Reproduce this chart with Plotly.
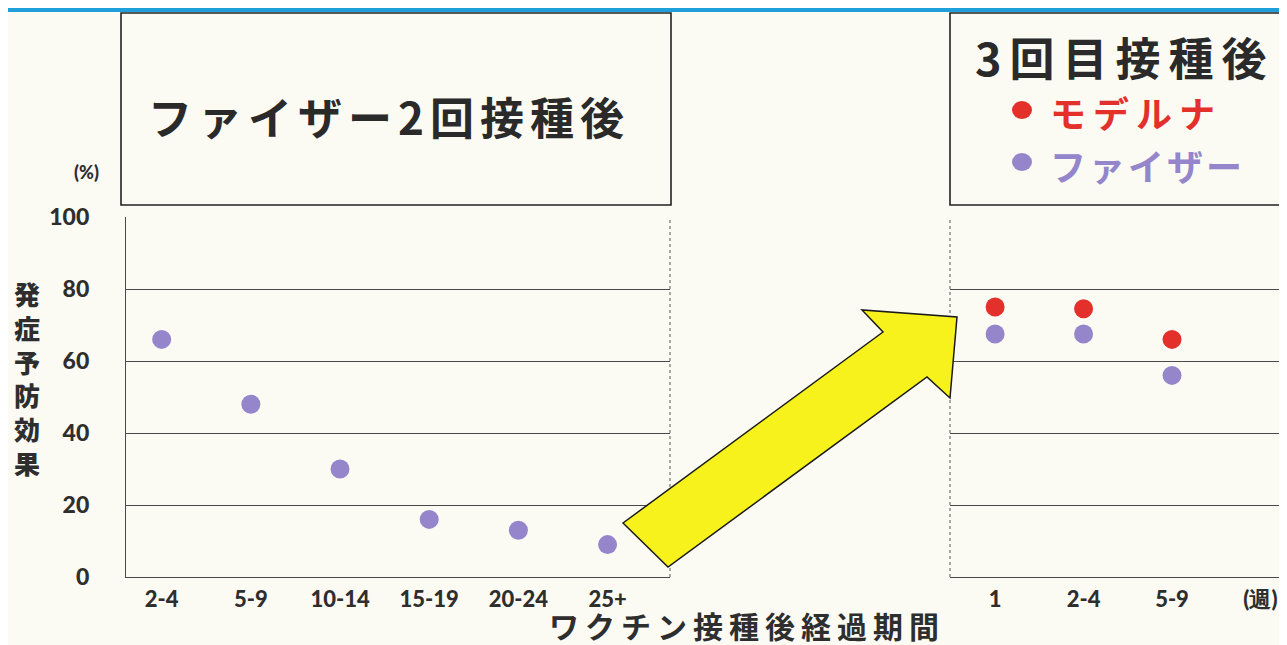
import plotly.graph_objects as go

# page body adds an 8px margin, so the figure is drawn 8px smaller and
# all layout positions (read in screen pixels) are shifted by that offset
OX, OY = 8, 8
W, H = 1287 - OX, 645 - OY

# ---- data ----
periods_2dose = ["2-4", "5-9", "10-14", "15-19", "20-24", "25+"]
pfizer_2dose = [66, 48, 30, 16, 13, 9]

periods_3dose = ["1", "2-4", "5-9"]
moderna_3dose = [75, 74.5, 66]
pfizer_3dose = [67.5, 67.5, 56]
unit_label = "(週)"

y_ticks = [0, 20, 40, 60, 80, 100]

PURPLE = "#9586cc"
RED = "#e4302a"
BG = "#fbfbf4"
GRID = "#4a4a4a"
TXT = "#2e2e2e"
JP = "Noto Sans CJK JP"
NUM = "Lato"


def px(x):
    return (x - OX) / W


def py(y):
    return 1 - (y - OY) / H


fig = go.Figure()

fig.add_trace(go.Scatter(
    x=periods_2dose, y=pfizer_2dose, mode="markers",
    marker=dict(color=PURPLE, size=19, line=dict(width=0)),
    xaxis="x", yaxis="y", showlegend=False, hoverinfo="skip"))

fig.add_trace(go.Scatter(
    x=periods_3dose, y=moderna_3dose, mode="markers",
    marker=dict(color=RED, size=19, line=dict(width=0)),
    xaxis="x2", yaxis="y2", showlegend=False, hoverinfo="skip"))

fig.add_trace(go.Scatter(
    x=periods_3dose, y=pfizer_3dose, mode="markers",
    marker=dict(color=PURPLE, size=19, line=dict(width=0)),
    xaxis="x2", yaxis="y2", showlegend=False, hoverinfo="skip"))

y_dom = [py(577), py(217)]
tickfont = dict(family=NUM, size=23, color=TXT, weight=900)
xtickfont = dict(family=NUM, size=22, color=TXT, weight=900)

fig.update_layout(
    width=W, height=H,
    margin=dict(l=0, r=0, t=0, b=0, autoexpand=False),
    paper_bgcolor=BG, plot_bgcolor="rgba(0,0,0,0)",
    xaxis=dict(domain=[px(126), px(670)], type="category",
               categoryarray=periods_2dose, categoryorder="array",
               range=[-0.4, 5.7], showgrid=False, zeroline=False,
               showline=True, linecolor=GRID, linewidth=1.2,
               ticks="", tickfont=xtickfont, ticklabelstandoff=2,
               automargin=False, anchor="y"),
    yaxis=dict(domain=y_dom, range=[0, 100], tickvals=y_ticks,
               showgrid=True, gridcolor=GRID, gridwidth=1,
               zeroline=False, showline=True, linecolor=GRID, linewidth=1.2,
               ticks="", tickfont=tickfont, ticklabelstandoff=31,
               automargin=False, anchor="x"),
    xaxis2=dict(domain=[px(950), 1.0], type="category",
                categoryarray=periods_3dose + [unit_label], categoryorder="array",
                range=[-0.51, 3.3], showgrid=False, zeroline=False,
                showline=True, linecolor=GRID, linewidth=1.2,
                ticks="", tickfont=xtickfont, ticklabelstandoff=2,
                automargin=False, anchor="y2"),
    yaxis2=dict(domain=y_dom, range=[0, 100], tickvals=y_ticks,
                showgrid=True, gridcolor=GRID, gridwidth=1,
                zeroline=False, showline=False, showticklabels=False,
                ticks="", automargin=False, anchor="x2"),
)

shapes = []
# top blue bar
shapes.append(dict(type="rect", xref="paper", yref="paper", x0=0, x1=1,
                   y0=py(12), y1=1, fillcolor="#1f9fd9", line=dict(width=0),
                   layer="above"))
# title boxes
shapes.append(dict(type="rect", xref="paper", yref="paper",
                   x0=px(121), x1=px(671), y0=py(205), y1=py(13),
                   line=dict(color="#222", width=1.6), fillcolor="rgba(0,0,0,0)"))
shapes.append(dict(type="rect", xref="paper", yref="paper",
                   x0=px(950), x1=px(1300), y0=py(205), y1=py(13),
                   line=dict(color="#222", width=1.6), fillcolor="rgba(0,0,0,0)"))
# dotted frame edges
shapes.append(dict(type="line", xref="x domain", yref="y domain",
                   x0=1, x1=1, y0=0, y1=1, line=dict(color="#555", width=1, dash="dot")))
shapes.append(dict(type="line", xref="x2 domain", yref="y2 domain",
                   x0=0, x1=0, y0=0, y1=1, line=dict(color="#555", width=1, dash="dot")))
# yellow arrow
arrow_pts = [(623, 523), (668, 567), (927, 377), (950, 398), (957, 317),
             (862, 310), (883, 332)]
path = "M " + " L ".join(f"{px(x)},{py(y)}" for x, y in arrow_pts) + " Z"
shapes.append(dict(type="path", xref="paper", yref="paper", path=path,
                   fillcolor="#f7f21c", line=dict(color="#1a1a1a", width=1.5),
                   layer="above"))
# legend dots in the right title box
for cy, col in ((110, RED), (162, PURPLE)):
    shapes.append(dict(type="circle", xref="paper", yref="paper",
                       x0=px(1012), x1=px(1032), y0=py(cy + 9), y1=py(cy - 9),
                       fillcolor=col, line=dict(width=0)))
fig.update_layout(shapes=shapes)


def note(text, x, y, size, color=TXT, family=JP, xanchor="center", weight="bold", ls=0):
    if ls:
        text = f"<span style='letter-spacing:{ls}px'>{text}</span>"
    return dict(text=text, x=px(x), y=py(y), xref="paper", yref="paper",
                xanchor=xanchor, yanchor="middle", showarrow=False,
                font=dict(family=family, size=size, color=color, weight=weight))


ann = [
    note("ファイザー2回接種後", 146, 116, 44, color="#2a2a2a", xanchor="left", ls=6),
    note("3回目接種後", 973, 57, 45, color="#2a2a2a", xanchor="left", ls=8),
    note("モデルナ", 1048, 112, 36, color=RED, xanchor="left", ls=7),
    note("ファイザー", 1048, 165, 36, color=PURPLE, xanchor="left", ls=3),
    note("(%)", 86, 172, 18, family=NUM, weight=900),
    note("<br>".join("発症予防効果"), 27, 378, 26, weight=900),
    note("ワクチン接種後経過期間", 547, 625, 30, xanchor="left", ls=6),
]
fig.update_layout(annotations=ann)

fig.write_html("out.html")
